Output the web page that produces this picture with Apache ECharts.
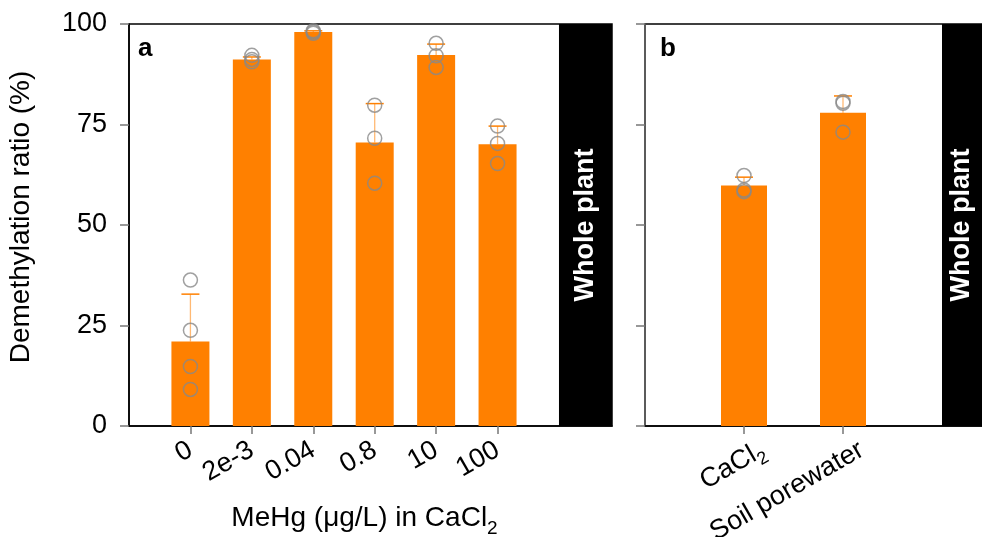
<!DOCTYPE html>
<html>
<head>
<meta charset="utf-8">
<script src="https://cdn.jsdelivr.net/npm/echarts@6/dist/echarts.min.js"></script>
<style>
  html, body { margin: 0; padding: 0; background: #fff; }
  #chart { width: 982px; height: 537px; }
</style>
</head>
<body>
<div id="chart"></div>
<script>
// panel a: MeHg concentration series
var catsA = ['0', '2e-3', '0.04', '0.8', '10', '100'];
var meanA = [21.0, 91.2, 98.0, 70.5, 92.3, 70.1];
var sdA = [11.8, 0.6, 0.3, 9.7, 2.7, 4.5];
var ptsA = [
  [36.3, 23.8, 14.8, 9.1],
  [92.2, 91.2, 90.6],
  [98.3, 98.0, 97.7],
  [79.8, 71.6, 60.4],
  [95.2, 92.1, 89.2],
  [74.6, 70.3, 65.3]
];

// panel b: medium
var catsB = ['CaCl2', 'Soil porewater'];
var meanB = [59.8, 77.9];
var sdB = [2.1, 4.2];
var ptsB = [
  [62.3, 58.7, 58.3],
  [80.3, 80.7, 73.1]
];

var yTicks = [0, 25, 50, 75, 100];

var orange = '#FF8000';
var font = 'Liberation Sans, Arial, sans-serif';

function barData(means) {
  return means.map(function (m, i) { return [i + 1, m]; });
}
function errData(means, sds) {
  return means.map(function (m, i) { return [i + 1, m, sds[i]]; });
}
function ptData(pts) {
  var out = [];
  pts.forEach(function (arr, i) {
    arr.forEach(function (v) { out.push([i + 1, v]); });
  });
  return out;
}

function renderErr(params, api) {
  var x = api.value(0), m = api.value(1), sd = api.value(2);
  var p0 = api.coord([x, m]);
  var p1 = api.coord([x, m + sd]);
  return {
    type: 'group',
    children: [
      { type: 'line', shape: { x1: p0[0], y1: p0[1], x2: p1[0], y2: p1[1] },
        style: { stroke: orange, lineWidth: 1.3, opacity: 0.55 } },
      { type: 'line', shape: { x1: p1[0] - 9, y1: p1[1], x2: p1[0] + 9, y2: p1[1] },
        style: { stroke: orange, lineWidth: 1.5 } }
    ]
  };
}

function subLabel(name) {
  if (name === 'CaCl2') return '{n|CaCl}{s|2}';
  return '{n|' + name + '}';
}

var richLab = {
  n: { fontSize: 27, fontFamily: font, color: '#000' },
  s: { fontSize: 18, fontFamily: font, color: '#000', verticalAlign: 'bottom', padding: [0, 0, -5, 0] }
};

function wholePlant() {
  return {
    silent: true,
    itemStyle: { color: '#000' },
    label: {
      show: true, position: 'inside', rotate: 90, formatter: 'Whole plant',
      color: '#fff', fontSize: 27, fontWeight: 'bold', fontFamily: font
    }
  };
}

var xMaxA = 7 + 53 / 61.4;
var xMaxB = 3 + 40 / 99;
// panel b tick labels sit a little right of their ticks
var labShiftB = 0.19;

var markA = wholePlant();
markA.data = [[{ xAxis: 7 }, { xAxis: xMaxA }]];
var markB = wholePlant();
markB.data = [[{ xAxis: 3 }, { xAxis: xMaxB }]];

var option = {
  backgroundColor: '#fff',
  animation: false,
  grid: [
    { left: 129, top: 24, width: 483, height: 402, show: true, borderColor: '#000', borderWidth: 1.5,
      outerBoundsMode: 'none', containLabel: false },
    { left: 645, top: 24, width: 337, height: 402, show: true, borderColor: '#000', borderWidth: 1.5,
      outerBoundsMode: 'none', containLabel: false }
  ],
  xAxis: [
    {
      gridIndex: 0, type: 'value', min: 0, max: xMaxA,
      splitLine: { show: false },
      axisLine: { lineStyle: { color: '#000', width: 1.5 } },
      axisTick: { customValues: [1, 2, 3, 4, 5, 6], length: 8, lineStyle: { color: '#777', width: 1.5 } },
      axisLabel: {
        customValues: [1, 2, 3, 4, 5, 6], rotate: 30, margin: 22,
        fontSize: 27, fontFamily: font, color: '#000',
        formatter: function (v) { return catsA[Math.round(v) - 1]; }
      },
      name: 'MeHg (\u03bcg/L) in {n|CaCl}{s|2}', nameLocation: 'middle', nameGap: 78,
      nameTextStyle: { fontSize: 28, fontFamily: font, color: '#000', padding: [0, 12, 0, 0],
        rich: { n: { fontSize: 28, fontFamily: font }, s: { fontSize: 19, fontFamily: font, verticalAlign: 'bottom', padding: [0, 0, -6, 0] } } }
    },
    {
      gridIndex: 1, type: 'value', min: 0, max: xMaxB,
      splitLine: { show: false },
      axisLine: { lineStyle: { color: '#000', width: 1.5 } },
      axisTick: { customValues: [1, 2], length: 8, lineStyle: { color: '#777', width: 1.5 } },
      axisLabel: {
        customValues: [1 + labShiftB, 2 + labShiftB], rotate: 30, margin: 22, rich: richLab,
        formatter: function (v) { return subLabel(catsB[Math.round(v - labShiftB) - 1]); }
      }
    }
  ],
  yAxis: [
    {
      gridIndex: 0, type: 'value', min: 0, max: 100, interval: 25,
      splitLine: { show: false },
      axisLine: { show: true, lineStyle: { color: '#000', width: 1.5 } },
      axisTick: { show: true, length: 9, lineStyle: { color: '#777', width: 1.5 } },
      axisLabel: { margin: 22, fontSize: 27, fontFamily: font, color: '#000',
        customValues: yTicks },
      name: 'Demethylation ratio (%)', nameLocation: 'middle', nameGap: 94,
      nameTextStyle: { fontSize: 28, fontFamily: font, color: '#000', padding: [0, 0, 0, 16] }
    },
    {
      gridIndex: 1, type: 'value', min: 0, max: 100, interval: 25,
      splitLine: { show: false },
      axisLine: { show: true, lineStyle: { color: '#666', width: 1.5 } },
      axisTick: { show: true, length: 9, lineStyle: { color: '#777', width: 1.5 } },
      axisLabel: { show: false }
    }
  ],
  series: [
    { type: 'bar', xAxisIndex: 0, yAxisIndex: 0, barWidth: 38, data: barData(meanA),
      itemStyle: { color: orange }, markArea: markA },
    { type: 'custom', xAxisIndex: 0, yAxisIndex: 0, renderItem: renderErr, data: errData(meanA, sdA), z: 3 },
    { type: 'scatter', xAxisIndex: 0, yAxisIndex: 0, data: ptData(ptsA), symbolSize: 14, z: 4,
      itemStyle: { color: 'rgba(0,0,0,0)', borderColor: '#888', borderWidth: 1.5 } },

    { type: 'bar', xAxisIndex: 1, yAxisIndex: 1, barWidth: 46, data: barData(meanB),
      itemStyle: { color: orange }, markArea: markB },
    { type: 'custom', xAxisIndex: 1, yAxisIndex: 1, renderItem: renderErr, data: errData(meanB, sdB), z: 3 },
    { type: 'scatter', xAxisIndex: 1, yAxisIndex: 1, data: ptData(ptsB), symbolSize: 14, z: 4,
      itemStyle: { color: 'rgba(0,0,0,0)', borderColor: '#888', borderWidth: 1.5 } }
  ],
  graphic: [
    { type: 'text', left: 138, top: 36, style: { text: 'a', fontSize: 26, fontWeight: 'bold', fontFamily: font, fill: '#000' } },
    { type: 'text', left: 660, top: 36, style: { text: 'b', fontSize: 26, fontWeight: 'bold', fontFamily: font, fill: '#000' } }
  ]
};

var myChart = echarts.init(document.getElementById('chart'), null, { renderer: 'canvas' });
myChart.setOption(option);
</script>
</body>
</html>
